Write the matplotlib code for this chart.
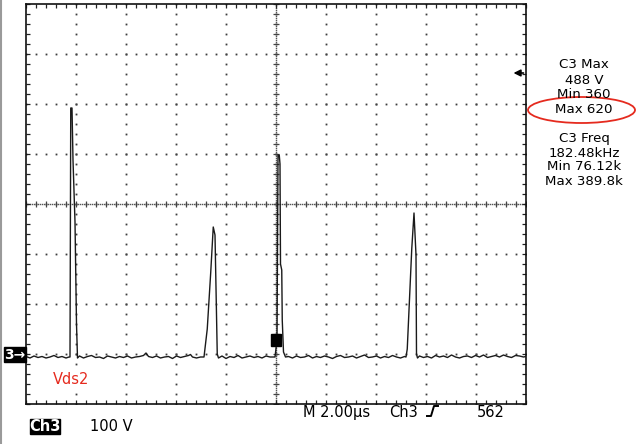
import numpy as np
import matplotlib.pyplot as plt
from matplotlib.patches import Rectangle, Ellipse
from matplotlib.lines import Line2D

# ---- scope settings (2 us/div, 100 V/div) ----
T_DIV = 2.0
V_DIV = 100.0
T_RANGE = (0.0, 20.0)
V_RANGE = (-100.0, 700.0)
TRIG_LEVEL = 562

# ---- Vds2 trace (t in us, v in V) ----
seg_a_t = [0.00, 0.16, 0.32, 0.48, 0.64, 0.80, 0.96, 1.12, 1.28, 1.44, 1.60, 1.72]
seg_a_v = [-5, -8, -4, -7, -5, -8, -6, -3, -7, -5, -8, -6]

pk1_t = [1.76, 1.79, 1.84, 1.88, 1.96, 2.02, 2.06]
pk1_v = [-6, 492, 492, 388, 264, 60, -8]

seg_b_t = [2.14, 2.30, 2.46, 2.62, 2.78, 2.94, 3.10, 3.26, 3.42, 3.58, 3.74,
           3.90, 4.06, 4.22, 4.38, 4.54, 4.70, 4.80, 4.90, 5.06, 5.22, 5.38,
           5.54, 5.70, 5.86, 6.02, 6.18, 6.34, 6.50, 6.58, 6.66, 6.82, 6.98, 7.10]
seg_b_v = [-4, -8, -5, -3, -7, -6, -9, -4, -6, -8, -5,
           -7, -4, -8, -6, -5, -3, 2, -5, -7, -4, -8,
           -6, -5, -9, -4, -7, -5, -3, -1, -6, -8, -6, -6]

pk2_t = [7.12, 7.25, 7.39, 7.49, 7.56, 7.60, 7.65]
pk2_v = [-6, 50, 164, 254, 238, 130, 0]

seg_c_t = [7.70, 7.84, 8.00, 8.16, 8.32, 8.48, 8.64, 8.80, 8.96, 9.12, 9.28,
           9.44, 9.60, 9.76, 9.92]
seg_c_v = [-8, -4, -9, -5, -7, -3, -8, -6, -4, -7, -5, -8, -4, -6, -6]

pk3_t = [9.96, 10.04, 10.08, 10.13, 10.16, 10.18, 10.23, 10.25, 10.30, 10.38]
pk3_v = [-6, 28, 398, 398, 380, 180, 168, 68, 4, -6]

seg_d_t = [10.50, 10.66, 10.82, 10.98, 11.14, 11.30, 11.46, 11.62, 11.78, 11.94,
           12.10, 12.26, 12.42, 12.58, 12.74, 12.90, 13.06, 13.22, 13.38, 13.54,
           13.70, 13.86, 14.02, 14.18, 14.34, 14.50, 14.66, 14.82, 14.98, 15.14]
seg_d_v = [-5, -8, -4, -7, -6, -3, -8, -5, -7, -4,
           -6, -9, -5, -3, -7, -6, -4, -8, -5, -2,
           -7, -6, -4, -8, -5, -7, -3, -6, -8, -5]

pk4_t = [15.20, 15.25, 15.33, 15.43, 15.52, 15.60, 15.62, 15.66]
pk4_v = [-6, 10, 98, 210, 282, 198, 0, -8]

seg_e_t = [15.74, 15.90, 16.06, 16.22, 16.38, 16.54, 16.70, 16.86, 17.02, 17.18,
           17.34, 17.50, 17.66, 17.82, 17.98, 18.14, 18.30, 18.46, 18.62, 18.78,
           18.94, 19.10, 19.26, 19.42, 19.58, 19.74, 19.90, 20.00]
seg_e_v = [-4, -7, -5, -8, -3, -6, -4, -7, -2, -6,
           -8, -5, -4, -7, -3, -6, -2, -7, -5, -3,
           -6, -2, -5, -7, -3, -4, -6, -5]

trace_t = seg_a_t + pk1_t + seg_b_t + pk2_t + seg_c_t + pk3_t + seg_d_t + pk4_t + seg_e_t
trace_v = seg_a_v + pk1_v + seg_b_v + pk2_v + seg_c_v + pk3_v + seg_d_v + pk4_v + seg_e_v

# measurement readout
meas_lines = ["C3 Max", "488 V", "Min 360", "Max 620",
              "C3 Freq", "182.48kHz", "Min 76.12k", "Max 389.8k"]
meas_base_y = [68, 84, 98, 113, 142, 157, 170, 185]

W, H = 640, 444
FONT = "DejaVu Sans"


def fx(x):
    return x / W


def fy(y):
    return 1 - y / H


fig = plt.figure(figsize=(6.4, 4.44), dpi=100)
ax = fig.add_axes([fx(26), fy(404), 500 / W, 400 / H])
ax.set_xlim(*T_RANGE)
ax.set_ylim(*V_RANGE)

# border ticks every 1/5 division
ax.set_xticks(np.arange(T_RANGE[0], T_RANGE[1] + 0.01, T_DIV / 5))
ax.set_yticks(np.arange(V_RANGE[0], V_RANGE[1] + 0.01, V_DIV / 5))
ax.tick_params(which="both", direction="in", length=3.2, width=0.9,
               top=True, right=True, labelbottom=False, labelleft=False,
               color="#222222")
for s in ax.spines.values():
    s.set_linewidth(1.2)
    s.set_color("#111111")

# dotted graticule
t_major = np.arange(T_RANGE[0] + T_DIV, T_RANGE[1], T_DIV)
v_major = np.arange(V_RANGE[0] + V_DIV, V_RANGE[1], V_DIV)
t_minor = np.arange(T_RANGE[0], T_RANGE[1] + 0.01, T_DIV / 5)
v_minor = np.arange(V_RANGE[0], V_RANGE[1] + 0.01, V_DIV / 5)
t_mid = (T_RANGE[0] + T_RANGE[1]) / 2
v_mid = 300.0
dot_kw = dict(ls="none", marker="s", ms=1.3, mew=0, color="#3c3c3c", zorder=1)
for t in t_major:
    ax.plot(np.full_like(v_minor, t), v_minor, **dot_kw)
for v in v_major:
    ax.plot(t_minor, np.full_like(t_minor, v), **dot_kw)

# centre cross: dense dots plus small ticks
fine_kw = dict(ls="none", marker="s", ms=1.0, mew=0, color="#555555", zorder=1)
t_fine = np.arange(T_RANGE[0], T_RANGE[1] + 0.001, T_DIV / 25)
v_fine = np.arange(V_RANGE[0], V_RANGE[1] + 0.001, V_DIV / 25)
ax.plot(t_fine, np.full_like(t_fine, v_mid), **fine_kw)
ax.plot(np.full_like(v_fine, t_mid), v_fine, **fine_kw)
ax.plot(t_minor, np.full_like(t_minor, v_mid), ls="none", marker="|",
        ms=4.5, mew=0.9, color="#444444", zorder=1)
ax.plot(np.full_like(v_minor, t_mid), v_minor, ls="none", marker="_",
        ms=4.5, mew=0.9, color="#444444", zorder=1)

# trace
ax.plot(trace_t, trace_v, color="#1a1a1a", lw=1.0, zorder=3)

# trigger position box and trigger level arrow
ax.add_patch(Rectangle((t_mid - 0.21, 16), 0.4, 25, color="black", zorder=4))
ax.annotate("", xy=(19.5, TRIG_LEVEL), xytext=(19.9, TRIG_LEVEL),
            arrowprops=dict(arrowstyle="-|>", color="black", lw=1.2,
                            mutation_scale=10, shrinkA=0, shrinkB=0))

fig.text(fx(71), fy(379), "Vds2", color="#e52a1e", fontsize=10.5,
         family=FONT, ha="center", va="center",
         bbox=dict(facecolor="white", edgecolor="none", pad=0.5))

# ground marker "3->"
fig.add_artist(Rectangle((fx(4), fy(361.5)), 21.5 / W, 14.5 / H,
                         transform=fig.transFigure, color="black"))
fig.text(fx(14.5), fy(354.5), "3\u2192", color="white", fontsize=10,
         family=FONT, ha="center", va="center", fontweight="bold")

# measurement panel
for txt, yb in zip(meas_lines, meas_base_y):
    fig.text(fx(584), fy(yb), txt, fontsize=9.6, family=FONT,
             ha="center", va="baseline", color="black")
fig.add_artist(Ellipse((5.815, 4.44 - 1.10), 1.07, 0.26,
                       transform=fig.dpi_scale_trans, fill=False,
                       edgecolor="#e52a1e", lw=1.3))

# bottom status line
fig.add_artist(Rectangle((fx(30), fy(434)), 30 / W, 15.5 / H,
                         transform=fig.transFigure, color="black"))
fig.text(fx(45), fy(431), "Ch3", color="white", fontsize=10.5,
         family=FONT, ha="center", va="baseline", fontweight="bold")
fig.text(fx(90), fy(431), "100 V", fontsize=10.5, family=FONT,
         ha="left", va="baseline")
fig.text(fx(303), fy(416.5), "M 2.00\u00b5s", fontsize=10.5, family=FONT,
         ha="left", va="baseline")
fig.text(fx(389), fy(416.5), "Ch3", fontsize=10.5, family=FONT,
         ha="left", va="baseline")
fig.text(fx(477), fy(416.5), "562", fontsize=10.5, family=FONT,
         ha="left", va="baseline")
# rising-edge trigger symbol
fig.add_artist(Line2D([fx(427), fx(431), fx(434), fx(438)],
                      [fy(416), fy(416), fy(406), fy(406)],
                      transform=fig.transFigure, color="black", lw=1.4))

# left frame edge of the screenshot
fig.add_artist(Line2D([fx(1), fx(1)], [0, 1], transform=fig.transFigure,
                      color="#9a9a9a", lw=1.5))

fig.savefig("out.png", dpi=100, facecolor="white")
